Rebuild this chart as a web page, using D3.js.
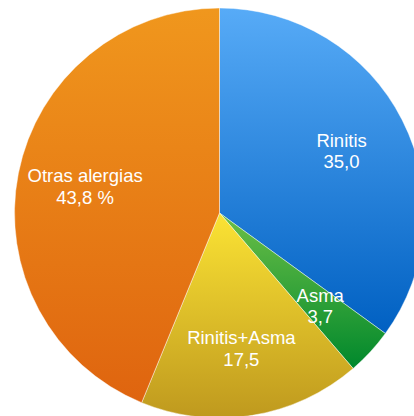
<!DOCTYPE html>
<html>
<head>
<meta charset="utf-8">
<script src="https://cdn.jsdelivr.net/npm/d3@7"></script>
<style>
html,body{margin:0;padding:0;background:#fff;overflow:hidden;}
svg{display:block;}
</style>
</head>
<body>
<svg id="chart" width="414" height="416"></svg>
<script>
const categories = ["Rinitis", "Asma", "Rinitis+Asma", "Otras alergias"];
const values = [35.0, 3.7, 17.5, 43.8];
const valueLabels = ["35,0", "3,7", "17,5", "43,8 %"];
const colorTop = ["#57abf7", "#6cbf47", "#fbe334", "#f0971d"];
const colorBottom = ["#0060c2", "#00882c", "#bf991e", "#df640f"];

const svg = d3.select("#chart");
const cx = 219.5, cy = 213, R = 205;

const data = categories.map((c, i) => ({cat: c, value: values[i], label: valueLabels[i], i}));

const defs = svg.append("defs");
data.forEach(d => {
  const g = defs.append("linearGradient")
    .attr("id", "grad" + d.i)
    .attr("x1", 0).attr("y1", 0).attr("x2", 0).attr("y2", 1);
  g.append("stop").attr("offset", "0%").attr("stop-color", colorTop[d.i]);
  g.append("stop").attr("offset", "100%").attr("stop-color", colorBottom[d.i]);
});

const pie = d3.pie().sort(null).value(d => d.value);
const arc = d3.arc().innerRadius(0).outerRadius(R);
const labelArc = d3.arc().innerRadius(137).outerRadius(137);

const g = svg.append("g").attr("transform", `translate(${cx},${cy})`);
const arcs = pie(data);

g.selectAll("path.slice").data(arcs).enter().append("path")
  .attr("class", "slice")
  .attr("d", arc)
  .attr("fill", d => `url(#grad${d.data.i})`)
  .attr("stroke", "rgba(255,255,255,0.55)")
  .attr("stroke-width", 0.8);

const labels = g.selectAll("text.lbl").data(arcs).enter().append("text")
  .attr("class", "lbl")
  .attr("text-anchor", "middle")
  .attr("font-family", "Liberation Sans, Arial, sans-serif")
  .attr("font-size", "18.5px")
  .attr("fill", "#ffffff");

labels.each(function(d) {
  const [x, y] = labelArc.centroid(d);
  const t = d3.select(this);
  t.append("tspan").attr("x", x).attr("y", y - 4).text(d.data.cat);
  t.append("tspan").attr("x", x).attr("y", y + 17.6).text(d.data.label);
});
</script>
</body>
</html>
